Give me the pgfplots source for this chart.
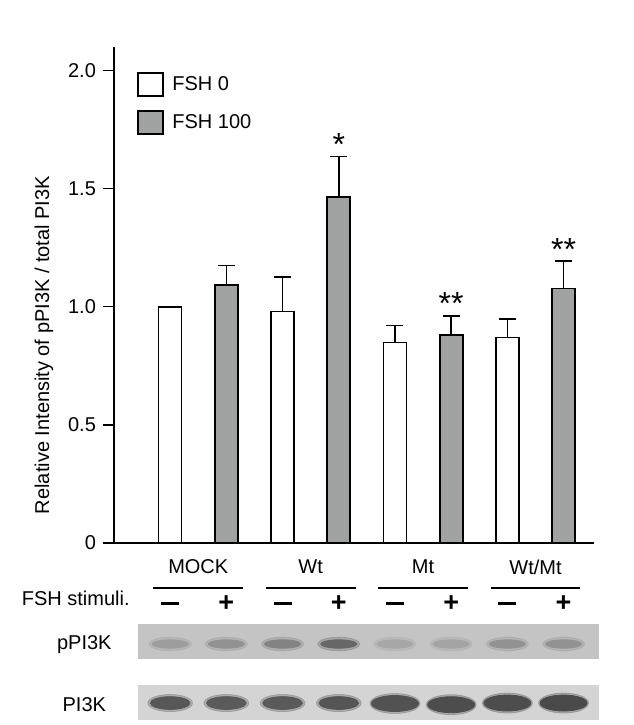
\documentclass[border=0pt]{standalone}
\usepackage{pgfplots}
\pgfplotsset{compat=1.18}
\usepackage{fontspec}
\setmainfont{Liberation Sans}
\definecolor{barGray}{RGB}{160,162,161}
\definecolor{blotA}{gray}{0.77}
\definecolor{blotB}{gray}{0.83}
\pgfplotsset{mylegend/.style={legend image code/.code={\draw[#1, line width=0.85pt] (0pt,-5.8pt) rectangle (12.2pt,5.8pt); \path (14.6pt,0pt);}}}
\begin{document}
\begin{tikzpicture}[font=\fontsize{10}{12}\selectfont]
\begin{axis}[
  scale only axis, width=240pt, height=248pt,
  xmin=0, xmax=8.54, ymin=0, ymax=2.1,
  axis x line*=bottom, axis y line*=left,
  axis line style={line width=0.7pt, -},
  xtick=\empty,
  ytick={0,0.5,1,1.5,2}, yticklabels={0,0.5,1.0,1.5,2.0},
  tick align=outside, ytick pos=left, major tick length=5.5pt,
  tick style={line width=0.7pt, black},
  /pgf/number format/assume math mode=true,
  ylabel={Relative Intensity of pPI3K / total PI3K},
  ylabel style={at={(axis description cs:-0.146,0.399)}, anchor=center},
  bar width=0.41, clip=false,
  legend style={at={(axis description cs:0.048,0.95)}, anchor=north west,
    draw=none, fill=none, inner sep=0pt, row sep=6.5pt,
    font=\fontsize{10}{12}\selectfont},
  legend cell align=left,
  colormap/blackwhite,
  point meta min=0, point meta max=1,
  errb/.style={error bars/.cd, y dir=plus, y explicit,
    error bar style={line width=0.8pt, black},
    error mark options={rotate=90, line width=0.8pt, mark size=4.25pt, black}},
]
% FSH 0
\addplot[ybar, bar shift=0pt, fill=white, draw=black, line width=0.75pt, mylegend, errb]
  coordinates {(3,0.98) +- (0,0.145) (5,0.849) +- (0,0.071) (7,0.870) +- (0,0.077)};
\addlegendentry{FSH 0}
% FSH 100
\addplot[ybar, bar shift=0pt, fill=barGray, draw=black, line width=0.9pt, mylegend, errb]
  coordinates {(2,1.093) +- (0,0.082) (4,1.466) +- (0,0.170) (6,0.880) +- (0,0.082) (8,1.077) +- (0,0.116)};
\addlegendentry{FSH 100}
% MOCK control (normalised, no error bar)
\addplot[ybar, bar shift=0pt, fill=white, draw=black, line width=0.75pt, forget plot]
  coordinates {(1,1.0)};

% significance marks
\node[anchor=base, yshift=0.5pt, font=\fontsize{16}{16}\selectfont] at (axis cs:4,1.636) {*};
\node[anchor=base, yshift=0.5pt, font=\fontsize{16}{16}\selectfont] at (axis cs:6,0.962) {**};
\node[anchor=base, yshift=0.5pt, font=\fontsize{16}{16}\selectfont] at (axis cs:8,1.193) {**};

% x axis extension to the left
\draw[line width=0.7pt] (axis cs:0,0) -- ++(-5.5pt,0pt);

% group labels
\node at (axis cs:1.5,-0.102) {MOCK};
\node at (axis cs:3.5,-0.102) {Wt};
\node at (axis cs:5.5,-0.102) {Mt};
\node at (axis cs:7.5,-0.102) {Wt/Mt};
\draw[line width=0.7pt] (axis cs:0.7,-0.191) -- (axis cs:2.3,-0.191);
\draw[line width=0.7pt] (axis cs:2.7,-0.191) -- (axis cs:4.3,-0.191);
\draw[line width=0.7pt] (axis cs:4.7,-0.191) -- (axis cs:6.3,-0.191);
\draw[line width=0.7pt] (axis cs:6.7,-0.191) -- (axis cs:8.3,-0.191);
\node[anchor=east] at (axis cs:0.405,-0.233) {FSH stimuli.};
\node[inner sep=0pt] at (axis cs:1,-0.258) {\rule{9pt}{1.5pt}};
\node[inner sep=0pt] at (axis cs:3,-0.258) {\rule{9pt}{1.5pt}};
\node[inner sep=0pt] at (axis cs:5,-0.258) {\rule{9pt}{1.5pt}};
\node[inner sep=0pt] at (axis cs:7,-0.258) {\rule{9pt}{1.5pt}};
\node[font=\fontsize{13.5}{13.5}\selectfont\bfseries] at (axis cs:2,-0.258) {+};
\node[font=\fontsize{13.5}{13.5}\selectfont\bfseries] at (axis cs:4,-0.258) {+};
\node[font=\fontsize{13.5}{13.5}\selectfont\bfseries] at (axis cs:6,-0.258) {+};
\node[font=\fontsize{13.5}{13.5}\selectfont\bfseries] at (axis cs:8,-0.258) {+};

% blots
\fill[blotA] (axis cs:0.423,-0.343) rectangle (axis cs:8.63,-0.491);
\fill[blotB] (axis cs:0.423,-0.601) rectangle (axis cs:8.63,-0.749);
\node at (axis cs:-0.528,-0.43) {pPI3K};
\node at (axis cs:-0.528,-0.686) {PI3K};

% pPI3K bands (halo + core)
\addplot[only marks, forget plot, scatter, point meta=explicit, mark=*,
  scatter/use mapped color={draw=mapped color, fill=mapped color},
  mark size=3.4pt, mark options={xscale=3.1, opacity=0.3}]
  coordinates {(1,-0.428)[0.60] (2,-0.428)[0.56] (3,-0.428)[0.50] (4,-0.428)[0.38]
               (5,-0.428)[0.64] (6,-0.428)[0.63] (7,-0.428)[0.56] (8,-0.428)[0.56]};
\addplot[only marks, forget plot, scatter, point meta=explicit, mark=*,
  scatter/use mapped color={draw=mapped color, fill=mapped color},
  mark size=2.1pt, mark options={xscale=4.3}]
  coordinates {(1,-0.428)[0.61] (2,-0.428)[0.57] (3,-0.428)[0.51] (4,-0.428)[0.40]
               (5,-0.428)[0.65] (6,-0.428)[0.64] (7,-0.428)[0.57] (8,-0.428)[0.57]};

% PI3K bands
\addplot[only marks, forget plot, scatter, point meta=explicit, mark=*,
  scatter/use mapped color={draw=mapped color, fill=mapped color},
  mark size=4.3pt, mark options={xscale=2.6, opacity=0.35}]
  coordinates {(1,-0.678)[0.4] (2,-0.678)[0.4] (3,-0.678)[0.4] (4,-0.678)[0.38]};
\addplot[only marks, forget plot, scatter, point meta=explicit, mark=*,
  scatter/use mapped color={draw=mapped color, fill=mapped color},
  mark size=3.2pt, mark options={xscale=3.1}]
  coordinates {(1,-0.678)[0.34] (2,-0.678)[0.35] (3,-0.678)[0.35] (4,-0.678)[0.33]};
\addplot[only marks, forget plot, scatter, point meta=explicit, mark=*,
  scatter/use mapped color={draw=mapped color, fill=mapped color},
  mark size=5pt, mark options={xscale=2.5, opacity=0.35}]
  coordinates {(5,-0.680)[0.38] (6,-0.685)[0.36] (7,-0.678)[0.36] (8,-0.678)[0.36]};
\addplot[only marks, forget plot, scatter, point meta=explicit, mark=*,
  scatter/use mapped color={draw=mapped color, fill=mapped color},
  mark size=4pt, mark options={xscale=2.94}]
  coordinates {(5,-0.680)[0.32] (6,-0.685)[0.30] (7,-0.678)[0.30] (8,-0.678)[0.29]};

% overall picture extent
\coordinate (bbsw) at (axis cs:-2.028,-0.771);
\coordinate (bbne) at (axis cs:9.25,2.299);
\end{axis}
\path (bbsw) rectangle (bbne);
\end{tikzpicture}
\end{document}
